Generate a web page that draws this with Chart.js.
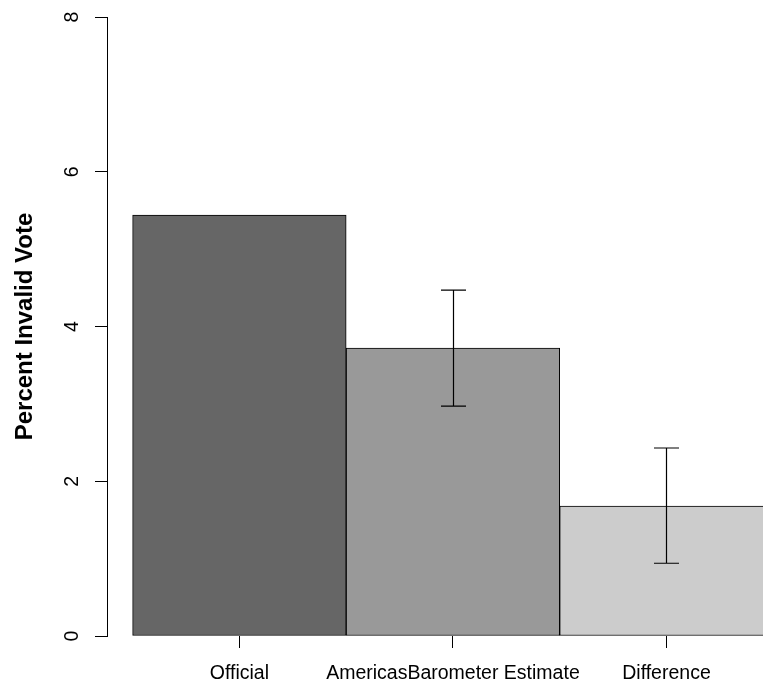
<!DOCTYPE html>
<html>
<head>
<meta charset="utf-8">
<script src="https://cdn.jsdelivr.net/npm/chart.js@4/dist/chart.umd.min.js"></script>
<style>
html,body{margin:0;padding:0;background:#fff;overflow:hidden;}
#wrap{width:763px;height:684px;position:relative;}
</style>
</head>
<body>
<div id="wrap"><canvas id="c" width="763" height="684"></canvas></div>
<script>
const categories = ["Official", "AmericasBarometer Estimate", "Difference"];
const values = [5.44, 3.72, 1.68];
const errLow = [null, 2.97, 0.94];
const errHigh = [null, 4.47, 2.43];
const barColors = ["#666666", "#999999", "#cccccc"];
const yTicks = [0, 2, 4, 6, 8];
const yTitle = "Percent Invalid Vote";

const errorBars = {
  id: 'errorBars',
  afterDatasetsDraw(chart) {
    const ctx = chart.ctx, xs = chart.scales.x, ys = chart.scales.y;
    ctx.save();
    ctx.strokeStyle = '#000';
    ctx.lineWidth = 1.2;
    for (let i = 0; i < values.length; i++) {
      if (errLow[i] == null) continue;
      const x = Math.round(xs.getPixelForValue(i)) + 0.5;
      const y1 = ys.getPixelForValue(errLow[i]);
      const y2 = ys.getPixelForValue(errHigh[i]);
      ctx.beginPath();
      ctx.moveTo(x, y1); ctx.lineTo(x, y2);
      ctx.moveTo(x - 12.5, y1); ctx.lineTo(x + 12.5, y1);
      ctx.moveTo(x - 12.5, y2); ctx.lineTo(x + 12.5, y2);
      ctx.stroke();
    }
    ctx.restore();
  }
};

new Chart(document.getElementById('c'), {
  type: 'bar',
  data: {
    datasets: [{
      data: values.map((v, i) => ({x: i, y: v})),
      backgroundColor: barColors,
      borderColor: '#000',
      borderWidth: 1,
      borderSkipped: false,
      barPercentage: 1,
      categoryPercentage: 1
    }]
  },
  options: {
    responsive: false,
    animation: false,
    devicePixelRatio: 1,
    layout: {padding: {top: 17, left: 0, right: 0, bottom: 0}},
    plugins: {legend: {display: false}, tooltip: {enabled: false}},
    scales: {
      x: {
        type: 'linear',
        offset: false,
        min: -0.62,
        max: 2.452,
        afterBuildTicks(s) { s.ticks = categories.map((c, i) => ({value: i})); },
        afterFit(s) { s.height = 48; s.paddingLeft = 0; s.paddingRight = 0; },
        ticks: {
          includeBounds: false,
          stepSize: 1,
          color: '#000',
          padding: 14,
          maxRotation: 0,
          autoSkip: false,
          font: {family: 'Liberation Sans, Arial, sans-serif', size: 19.5},
          callback: (v) => categories[v]
        },
        grid: {offset: false, drawOnChartArea: false, drawTicks: true, tickLength: 12, color: '#000', lineWidth: 1},
        border: {display: false}
      },
      y: {
        min: 0,
        max: 8,
        afterBuildTicks(s) { s.ticks = yTicks.map(v => ({value: v})); },
        afterFit(s) { s.width = 107; s.paddingTop = 0; s.paddingBottom = 0; },
        ticks: {
          color: '#000',
          minRotation: 90,
          maxRotation: 90,
          crossAlign: 'center',
          padding: 17,
          font: {family: 'Liberation Sans, Arial, sans-serif', size: 19.5}
        },
        grid: {drawOnChartArea: false, drawTicks: true, tickLength: 12, color: '#000', lineWidth: 1},
        border: {display: true, color: '#000', width: 1},
        title: {
          display: true,
          text: yTitle,
          color: '#000',
          padding: {top: 11, bottom: 0},
          font: {family: 'Liberation Sans, Arial, sans-serif', size: 24, weight: 'bold'}
        }
      }
    }
  },
  plugins: [errorBars]
});
</script>
</body>
</html>
